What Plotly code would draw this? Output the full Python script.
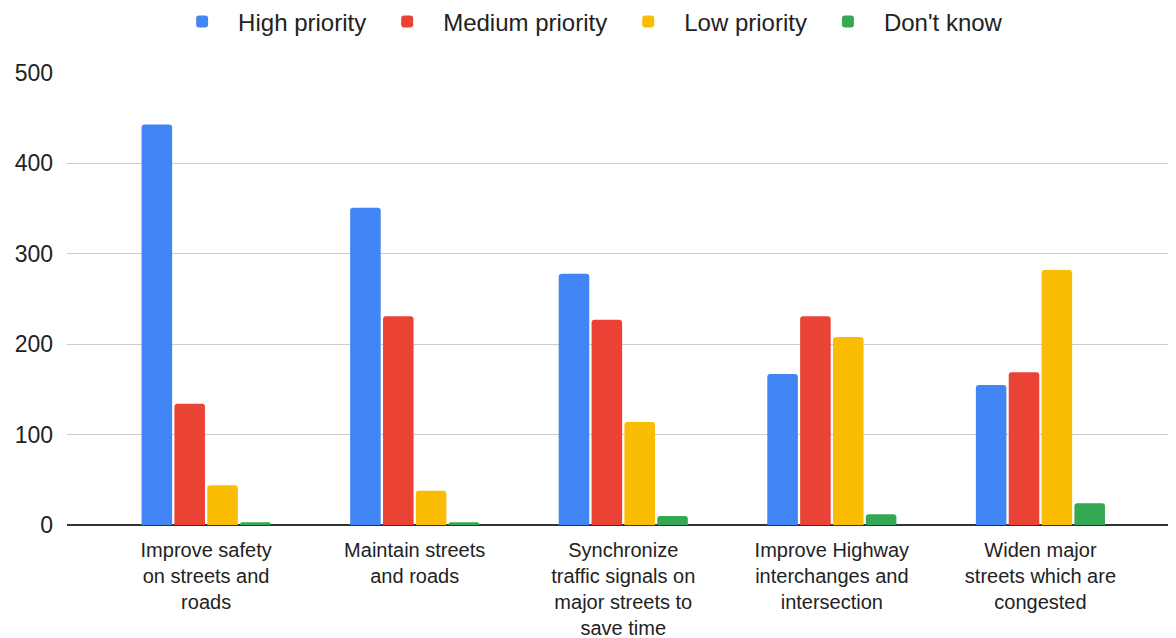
import plotly.graph_objects as go

categories = [
    "Improve safety<br>on streets and<br>roads",
    "Maintain streets<br>and roads",
    "Synchronize<br>traffic signals on<br>major streets to<br>save time",
    "Improve Highway<br>interchanges and<br>intersection",
    "Widen major<br>streets which are<br>congested",
]
high = [443, 351, 278, 167, 155]
medium = [134, 231, 227, 231, 169]
low = [44, 38, 114, 208, 282]
dont_know = [3, 3, 10, 12, 24]

series = [
    ("High priority", high, "#4285F4"),
    ("Medium priority", medium, "#EA4335"),
    ("Low priority", low, "#FBBC04"),
    ("Don't know", dont_know, "#34A853"),
]

fig = go.Figure()
for name, vals, color in series:
    fig.add_trace(go.Bar(x=list(range(len(categories))), y=vals, name=name,
                         marker=dict(color=color, line=dict(width=0))))

# page body has an 8px margin, so the figure is offset by (8, 8)
fig.update_layout(
    width=1168, height=630,
    margin=dict(l=59, r=0, t=65, b=113, autoexpand=False),
    paper_bgcolor="white", plot_bgcolor="white",
    font=dict(family="Liberation Sans, Arial, sans-serif", size=21, color="#222"),
    barmode="group", bargap=0.37, bargroupgap=0.07, barcornerradius=3,
    legend=dict(orientation="h", x=0.469, xanchor="center", y=1.113, yanchor="middle",
                font=dict(size=24), itemwidth=62, traceorder="normal"),
    showlegend=True,
)
fig.update_xaxes(
    range=[-0.667, 4.65], tickmode="array", tickvals=list(range(len(categories))),
    ticktext=categories, showgrid=False, showline=False, ticks="", zeroline=False,
    tickfont=dict(size=20, color="#222"), automargin=False, ticklabelstandoff=11,
)
fig.update_yaxes(
    range=[0, 500], dtick=100, showgrid=True, gridcolor="#cccccc", gridwidth=1,
    zeroline=True, zerolinecolor="#333333", zerolinewidth=2, automargin=False,
    tickfont=dict(size=23, color="#222"), ticklabelstandoff=13,
)
fig.write_html("out.html")
